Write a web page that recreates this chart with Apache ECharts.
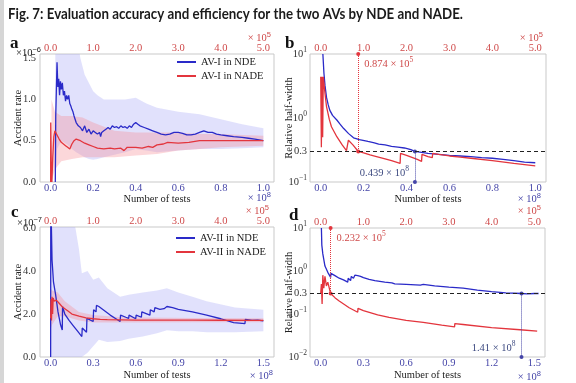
<!DOCTYPE html>
<html><head><meta charset="utf-8">
<script src="https://cdn.jsdelivr.net/npm/echarts@6/dist/echarts.min.js"></script>
<style>html,body{margin:0;padding:0;background:#fff}#c{width:576px;height:383px}</style>
</head><body><div id="c"></div><script>
// ---------- DATA ----------
const TITLE = 'Fig. 7: Evaluation accuracy and efficiency for the two AVs by NDE and NADE.';
const xTicksAB = [0, 0.2, 0.4, 0.6, 0.8, 1.0];
const xTicksCD = [0, 0.3, 0.6, 0.9, 1.2, 1.5];
const topTicks = [0, 1, 2, 3, 4, 5];
const yTicksA = [0, 0.5, 1.0, 1.5];
const yTicksC = [0, 2, 4, 6];
const yTicksB = [0.1, 0.3, 1, 10];
const yTicksD = [0.01, 0.1, 0.3, 1, 10];
const threshold = 0.3;

// Panel a (x: 1e8 tests bottom / 1e5 tests top, y: 1e-6)
const aNdeX = [0.022,0.024,0.03,0.034,0.038,0.042,0.046,0.05,0.055,0.06,0.065,0.07,0.075,0.08,0.085,0.09,0.095,0.1,0.105,0.11,0.115,0.12,0.13,0.14,0.15,0.16,0.17,0.18,0.19,0.2,0.21,0.22,0.23,0.235,0.24,0.25,0.26,0.27,0.28,0.29,0.3,0.31,0.32,0.33,0.34,0.35,0.36,0.37,0.38,0.39,0.4,0.41,0.42,0.44,0.46,0.48,0.5,0.52,0.54,0.56,0.58,0.6,0.62,0.64,0.66,0.68,0.7,0.72,0.74,0.76,0.78,0.8,0.83,0.86,0.9,0.93,0.96,1.0];
const aNdeY = [0,0.8,1.45,1.15,1.25,1.05,1.22,1.12,1.2,1.05,1.1,0.98,1.05,1.0,1.05,0.95,0.92,0.88,0.85,0.8,0.76,0.72,0.68,0.66,0.62,0.68,0.6,0.64,0.58,0.62,0.6,0.58,0.6,0.55,0.6,0.62,0.64,0.66,0.64,0.68,0.66,0.67,0.65,0.68,0.66,0.67,0.65,0.68,0.66,0.7,0.72,0.7,0.68,0.66,0.64,0.62,0.6,0.58,0.57,0.58,0.6,0.6,0.59,0.57,0.57,0.58,0.6,0.62,0.6,0.6,0.58,0.57,0.56,0.55,0.54,0.53,0.52,0.5];
const aNdeBandX = [0.022,0.03,0.05,0.08,0.1,0.12,0.14,0.16,0.18,0.2,0.22,0.25,0.3,0.35,0.4,0.45,0.5,0.6,0.7,0.8,0.9,1.0];
const aNdeHi = [2.5,3,3,2.6,2.2,1.8,1.5,1.3,1.2,1.1,1.05,1.0,1.0,1.0,1.02,0.95,0.9,0.85,0.82,0.76,0.7,0.65];
const aNdeLo = [0,0.4,0.5,0.45,0.4,0.36,0.33,0.3,0.28,0.27,0.28,0.3,0.33,0.36,0.4,0.38,0.36,0.38,0.4,0.4,0.41,0.42];
const aNadeX = [0,0.0025,0.02,0.03,0.05,0.075,0.1,0.125,0.15,0.2,0.25,0.3,0.35,0.4,0.45,0.475,0.5,0.55,0.6,0.65,0.7,0.8,0.9,1.0,1.1,1.25,1.4,1.5,1.65,1.725,1.75,1.8,1.9,2.0,2.15,2.3,2.4,2.5,2.65,2.75,3.0,3.25,3.5,3.75,4.0,4.25,4.5,4.75,5.0];
const aNadeY = [0.0,0.72,0.05,0.0,0.3,0.55,0.62,0.6,0.57,0.52,0.48,0.46,0.44,0.42,0.4,0.38,0.46,0.5,0.52,0.51,0.5,0.47,0.45,0.43,0.41,0.4,0.41,0.4,0.41,0.38,0.36,0.42,0.42,0.42,0.41,0.43,0.42,0.45,0.46,0.48,0.47,0.48,0.5,0.5,0.5,0.5,0.5,0.5,0.5];
const aNadeBandX = [0.02,0.1,0.25,0.5,0.75,1.0,1.5,2.0,2.5,3.0,3.5,4.0,4.5,5.0];
const aNadeHi = [1.0,0.85,0.8,0.8,0.78,0.72,0.62,0.6,0.6,0.6,0.58,0.58,0.57,0.56];
const aNadeLo = [0,0.15,0.25,0.28,0.3,0.3,0.3,0.32,0.34,0.38,0.4,0.42,0.43,0.44];

// Panel b (relative half-width, log)
const bNdeX = [0.01,0.015,0.02,0.027,0.035,0.042,0.055,0.075,0.09,0.106,0.13,0.153,0.18,0.22,0.25,0.27,0.3,0.33,0.36,0.39,0.42,0.439,0.47,0.5,0.55,0.6,0.65,0.7,0.75,0.8,0.85,0.9,0.95,1.0];
const bNdeY = [10,5,3.2,2.1,1.6,1.33,1.1,0.93,0.8,0.69,0.57,0.49,0.46,0.43,0.41,0.39,0.38,0.36,0.35,0.34,0.32,0.3,0.29,0.28,0.27,0.26,0.255,0.25,0.24,0.235,0.225,0.215,0.205,0.2];
const bNadeX = [0,0.015,0.03,0.045,0.06,0.075,0.1,0.135,0.2,0.25,0.375,0.5,0.6,0.635,0.645,0.75,0.875,1.0,1.15,1.3,1.5,1.65,1.85,1.86,2.0,2.25,2.35,2.36,2.5,2.6,2.61,2.75,3.0,3.25,3.5,4.0,4.5,5.0];
const bNadeY = [4.4,0.35,4.4,0.5,4.4,3.5,2.4,1.5,0.95,0.73,0.51,0.38,0.31,0.29,0.45,0.38,0.3,0.285,0.265,0.25,0.23,0.215,0.195,0.28,0.26,0.225,0.21,0.27,0.25,0.24,0.28,0.27,0.255,0.245,0.235,0.215,0.195,0.178];
const bNadeMark = 0.874;   // x 1e5
const bNdeMark = 0.439;    // x 1e8

// Panel c (y: 1e-7)
const cNdeX = [0,0.001,0.004,0.01,0.02,0.035,0.052,0.07,0.082,0.084,0.1,0.13,0.16,0.19,0.22,0.223,0.253,0.256,0.262,0.3,0.303,0.32,0.323,0.34,0.38,0.42,0.46,0.49,0.493,0.53,0.55,0.553,0.6,0.603,0.64,0.643,0.7,0.703,0.73,0.735,0.77,0.78,0.8,0.82,0.86,0.9,0.96,1.0,1.003,1.1,1.2,1.29,1.37,1.373,1.42,1.46,1.5];
const cNdeY = [0,8,6.5,4.5,3.5,2.9,2.1,1.5,1.26,2.34,2.0,1.7,1.45,1.2,0.95,1.35,1.15,1.8,1.75,1.65,2.2,2.1,2.4,2.35,2.15,1.95,1.78,1.65,1.95,1.85,1.8,1.95,1.78,1.95,1.85,2.1,1.95,2.2,2.1,2.3,2.22,2.3,2.25,2.35,2.3,2.22,2.15,2.1,2.15,1.95,1.78,1.6,1.55,1.75,1.7,1.72,1.68];
const cNdeBandX = [0,0.1,0.15,0.2,0.22,0.26,0.3,0.34,0.4,0.49,0.55,0.65,0.75,0.82,0.9,1.0,1.1,1.3,1.5];
const cNdeHi = [20,20,7,5.0,3.9,4.0,3.6,3.7,3.2,2.8,2.9,3.0,3.1,3.2,3.0,2.8,2.6,2.3,2.2];
const cNdeLo = [0,0,0,0,0,0.2,0.5,0.8,0.7,0.75,0.85,0.95,1.1,1.25,1.2,1.2,1.15,1.15,1.2];
const cNadeX = [0,0.01,0.02,0.0333,0.0467,0.06,0.0833,0.1333,0.2,0.2667,0.3333,0.4,0.5,0.6667,0.8333,1.0,1.1667,1.3333,2.0,2.6667,3.3333,4.0,5.0];
const cNadeY = [1.8,2.7,1.7,2.8,2.0,2.75,2.6,2.65,2.5,2.35,2.25,2.15,2.0,1.9,1.82,1.78,1.75,1.74,1.72,1.72,1.72,1.71,1.7];
const cNadeBandX = [0,0.0333,0.1667,0.3333,0.6667,1.0,1.6667,3.3333,5.0];
const cNadeHi = [3.2,3.1,3.0,2.6,2.1,1.95,1.85,1.82,1.8];
const cNadeLo = [1.3,1.5,1.9,1.9,1.7,1.6,1.6,1.62,1.62];

// Panel d
const dNdeX = [0.005,0.008,0.015,0.03,0.05,0.07,0.072,0.1,0.13,0.16,0.19,0.193,0.21,0.215,0.23,0.24,0.26,0.265,0.28,0.3,0.34,0.38,0.45,0.5,0.52,0.6,0.7,0.72,0.8,0.9,1.0,1.1,1.2,1.3,1.41,1.45,1.5,1.53];
const dNdeY = [10,4,2.5,1.3,0.93,0.71,0.88,0.78,0.68,0.62,0.55,0.68,0.6,0.75,0.68,0.8,0.78,0.82,0.75,0.7,0.64,0.6,0.55,0.53,0.5,0.49,0.47,0.49,0.45,0.42,0.4,0.36,0.33,0.31,0.3,0.295,0.3,0.3];
const dNadeX = [0,0.0167,0.0333,0.05,0.0733,0.1,0.1333,0.1667,0.232,0.3333,0.4333,0.6667,0.8667,0.8733,1.0,1.3333,1.6,2.0,2.4,2.8333,3.1333,3.14,3.3333,4.0,4.6667,5.0667];
const dNadeY = [0.3,0.5,0.17,0.8,0.4,0.75,0.45,0.55,0.3,0.24,0.2,0.14,0.11,0.135,0.12,0.095,0.083,0.071,0.064,0.055,0.05,0.06,0.057,0.048,0.043,0.04];
const dNadeMark = 0.232;  // x 1e5
const dNdeMark = 1.41;    // x 1e8

// ---------- STYLE ----------
const SERIF = 'Liberation Serif';
const FS = 10.5;
const BLUE = '#2a2ac8', RED = '#e3353d';
const BLUE_TXT = '#4545a8', RED_TXT = '#cf4a4a', DARK = '#222';
const BAND_BLUE = 'rgba(170,170,245,0.35)', BAND_RED = 'rgba(245,140,150,0.35)';
const supRich = {s: {fontSize: 7.5, padding: [0, 0, 7, 0]}};

const zip = (xs, ys) => xs.map((x, i) => [x, ys[i]]);
const logFmt = v => {
  const e = Math.log10(v);
  if (Math.abs(e - Math.round(e)) < 1e-6) { const r = Math.round(e); return '10{s|' + (r < 0 ? '\u2212' + (-r) : r) + '}'; }
  return v.toFixed(1);
};

const grids = [
  {left: 40, top: 54, width: 234, height: 128},
  {left: 310, top: 54, width: 236, height: 128},
  {left: 40, top: 227, width: 234, height: 130},
  {left: 310, top: 228, width: 235, height: 129}
].map(g => Object.assign(g, {show: true, borderColor: '#c9c9c9', borderWidth: 1, containLabel: false}));

function xBottom(gi, max, ticks, gap) {
  return {type: 'value', gridIndex: gi, position: 'bottom', min: -max * 0.05, max: max * 1.05,
    axisLine: {show: false}, axisTick: {show: false}, splitLine: {show: false},
    axisLabel: {customValues: ticks, formatter: v => v.toFixed(1), color: BLUE_TXT, fontFamily: SERIF, fontSize: FS, margin: 1},
    name: 'Number of tests', nameLocation: 'middle', nameGap: gap, nameMoveOverlap: false,
    nameTextStyle: {fontFamily: SERIF, fontSize: FS, color: DARK}};
}
function xTop(gi) {
  return {type: 'value', gridIndex: gi, position: 'top', min: -0.25, max: 5.25,
    axisLine: {show: false}, axisTick: {show: false}, splitLine: {show: false},
    axisLabel: {customValues: topTicks, formatter: v => v.toFixed(1), color: RED_TXT, fontFamily: SERIF, fontSize: FS, margin: 0}};
}
function yLin(gi, max, ticks) {
  return {type: 'value', gridIndex: gi, min: 0, max: max,
    axisLine: {show: false}, axisTick: {show: false}, splitLine: {show: false},
    axisLabel: {customValues: ticks, formatter: v => v.toFixed(1), color: '#333', fontFamily: SERIF, fontSize: FS, margin: 4},
    name: 'Accident rate', nameLocation: 'middle', nameGap: 16, nameRotate: 90, nameMoveOverlap: false,
    nameTextStyle: {fontFamily: SERIF, fontSize: FS, color: DARK}};
}
function yLog(gi, min, ticks) {
  return {type: 'log', logBase: 10, gridIndex: gi, min: min, max: 10,
    axisLine: {show: false}, axisTick: {show: false}, splitLine: {show: false}, minorSplitLine: {show: false},
    axisLabel: {customValues: ticks, formatter: logFmt, rich: supRich, color: '#333', fontFamily: SERIF, fontSize: FS, margin: 3},
    name: 'Relative half-width', nameLocation: 'middle', nameGap: 15, nameRotate: 90, nameMoveOverlap: false,
    nameTextStyle: {fontFamily: SERIF, fontSize: FS, color: DARK}};
}

function line(name, xi, yi, xs, ys, color, extra) {
  return Object.assign({type: 'line', name, xAxisIndex: xi, yAxisIndex: yi, data: zip(xs, ys),
    showSymbol: false, symbol: 'none', color, lineStyle: {width: 1.3, color}, itemStyle: {color},
    z: 3, clip: true, animation: false}, extra || {});
}
function band(xi, yi, xs, lo, hi, fill) {
  return {type: 'custom', xAxisIndex: xi, yAxisIndex: yi, silent: true, z: 1, clip: true, animation: false,
    data: [[xs[0], lo[0]]],
    renderItem: function (params, api) {
      const pts = [];
      for (let i = 0; i < xs.length; i++) pts.push(api.coord([xs[i], hi[i]]));
      for (let i = xs.length - 1; i >= 0; i--) pts.push(api.coord([xs[i], lo[i]]));
      const cs = params.coordSys;
      return {type: 'polygon', shape: {points: pts}, style: {fill: fill},
        clipPath: {type: 'rect', shape: {x: cs.x, y: cs.y, width: cs.width, height: cs.height}}};
    }};
}
function vMark(x, y1, y2) {
  return [{coord: [x, y1]}, {coord: [x, y2]}];
}
function markLine(segs, color) {
  return {silent: true, symbol: ['circle', 'circle'], symbolSize: 4, animation: false,
    label: {show: false}, lineStyle: {color, type: 'dotted', width: 1}, data: segs};
}
function annot(x, y, text, color, pos, offset) {
  return {symbol: 'circle', symbolSize: 0, animation: false, silent: true,
    data: [{coord: [x, y], label: {show: true, position: pos, offset: offset, formatter: text,
      color: color, fontFamily: SERIF, fontSize: FS, rich: supRich}}]};
}
const thresholdLine = {silent: true, symbol: 'none', animation: false, label: {show: false},
  lineStyle: {color: DARK, type: [4, 3], width: 1.2}, data: [{yAxis: threshold}]};

// ---------- TITLE SIZE ----------
const mctx = document.createElement('canvas').getContext('2d');
mctx.font = 'bold 16px Lato';
const titleScale = 455 / mctx.measureText(TITLE).width;

function gText(text, x, y, opt) {
  return {type: 'text', x, y, z: 100, style: Object.assign({text, fontFamily: SERIF, fontSize: FS, fill: DARK,
    align: 'left', verticalAlign: 'middle', rich: supRich}, opt || {})};
}
const legendStyle = {orient: 'vertical', icon: 'rect', itemWidth: 19, itemHeight: 2, itemGap: 0, padding: 0,
  selectedMode: false, textStyle: {fontFamily: SERIF, fontSize: 10.5, color: DARK, lineHeight: 14}};

const chart = echarts.init(document.getElementById('c'), null, {renderer: 'canvas'});
chart.setOption({
  animation: false,
  backgroundColor: '#fff',
  grid: grids,
  xAxis: [xBottom(0, 1.0, xTicksAB, 12), xTop(0), xBottom(1, 1.0, xTicksAB, 12), xTop(1),
          xBottom(2, 1.5, xTicksCD, 13), xTop(2), xBottom(3, 1.5, xTicksCD, 13), xTop(3)],
  yAxis: [yLin(0, 1.55, yTicksA), yLog(1, 0.1, yTicksB), yLin(2, 6.05, yTicksC), yLog(3, 0.01, yTicksD)],
  legend: [
    Object.assign({data: ['AV-I in NDE', 'AV-I in NADE'], left: 177, top: 55}, legendStyle),
    Object.assign({data: ['AV-II in NDE', 'AV-II in NADE'], left: 176, top: 231}, legendStyle)
  ],
  series: [
    band(0, 0, aNdeBandX, aNdeLo, aNdeHi, BAND_BLUE),
    band(1, 0, aNadeBandX, aNadeLo, aNadeHi, BAND_RED),
    line('AV-I in NDE', 0, 0, aNdeX, aNdeY, BLUE),
    line('AV-I in NADE', 1, 0, aNadeX, aNadeY, RED),

    line('b NDE', 2, 1, bNdeX, bNdeY, BLUE, {
      markLine: markLine([vMark(bNdeMark, threshold, 0.1)], BLUE_TXT),
      markPoint: annot(bNdeMark, 0.1, bNdeMark + ' × 10{s|8}', '#3d4a80', 'left', [-1, -9])}),
    line('b NADE', 3, 1, bNadeX, bNadeY, RED, {
      markLine: markLine([vMark(bNadeMark, 10, threshold)], RED),
      markPoint: annot(bNadeMark, 10, bNadeMark + ' × 10{s|5}', RED_TXT, 'right', [1, 10])}),
    {type: 'line', name: 'thr b', xAxisIndex: 2, yAxisIndex: 1, data: [], markLine: thresholdLine, z: 4},

    band(4, 2, cNdeBandX, cNdeLo, cNdeHi, BAND_BLUE),
    band(5, 2, cNadeBandX, cNadeLo, cNadeHi, BAND_RED),
    line('AV-II in NDE', 4, 2, cNdeX, cNdeY, BLUE),
    line('AV-II in NADE', 5, 2, cNadeX, cNadeY, RED),

    line('d NDE', 6, 3, dNdeX, dNdeY, BLUE, {
      markLine: markLine([vMark(dNdeMark, threshold, 0.01)], BLUE_TXT),
      markPoint: annot(dNdeMark, 0.01, dNdeMark + ' × 10{s|8}', '#3d4a80', 'left', [-1, -9])}),
    line('d NADE', 7, 3, dNadeX, dNadeY, RED, {
      markLine: markLine([vMark(dNadeMark, 10, threshold)], RED),
      markPoint: annot(dNadeMark, 10, dNadeMark + ' × 10{s|5}', RED_TXT, 'right', [1, 10])}),
    {type: 'line', name: 'thr d', xAxisIndex: 6, yAxisIndex: 3, data: [], markLine: thresholdLine, z: 4}
  ],
  graphic: [
    {type: 'rect', shape: {x: 0, y: 0, width: 4, height: 383}, style: {fill: '#d6d6d6'}, z: 100},
    {type: 'text', x: 8, y: 14, scaleX: titleScale, z: 100,
     style: {text: TITLE, fontFamily: 'Lato', fontWeight: 'bold', fontSize: 16, fill: '#1b1b1b', verticalAlign: 'middle'}},
    gText('a', 10, 44, {fontSize: 17, fontWeight: 'bold', fill: '#111'}),
    gText('b', 285, 44, {fontSize: 17, fontWeight: 'bold', fill: '#111'}),
    gText('c', 11, 213, {fontSize: 17, fontWeight: 'bold', fill: '#111'}),
    gText('d', 289, 216, {fontSize: 17, fontWeight: 'bold', fill: '#111'}),
    gText('×10{s|\u22126}', 41, 53, {align: 'right'}),
    gText('×10{s|\u22127}', 42, 223, {align: 'right'}),
    gText('× 10{s|5}', 271, 38, {align: 'right', fill: RED_TXT}),
    gText('× 10{s|5}', 543, 38, {align: 'right', fill: RED_TXT}),
    gText('× 10{s|5}', 269, 211, {align: 'right', fill: RED_TXT}),
    gText('× 10{s|5}', 541, 211, {align: 'right', fill: RED_TXT}),
    gText('× 10{s|8}', 271, 198, {align: 'right', fill: BLUE_TXT}),
    gText('× 10{s|8}', 541, 199, {align: 'right', fill: BLUE_TXT}),
    gText('× 10{s|8}', 273, 376, {align: 'right', fill: BLUE_TXT}),
    gText('× 10{s|8}', 541, 377, {align: 'right', fill: BLUE_TXT})
  ]
});
</script></body></html>
